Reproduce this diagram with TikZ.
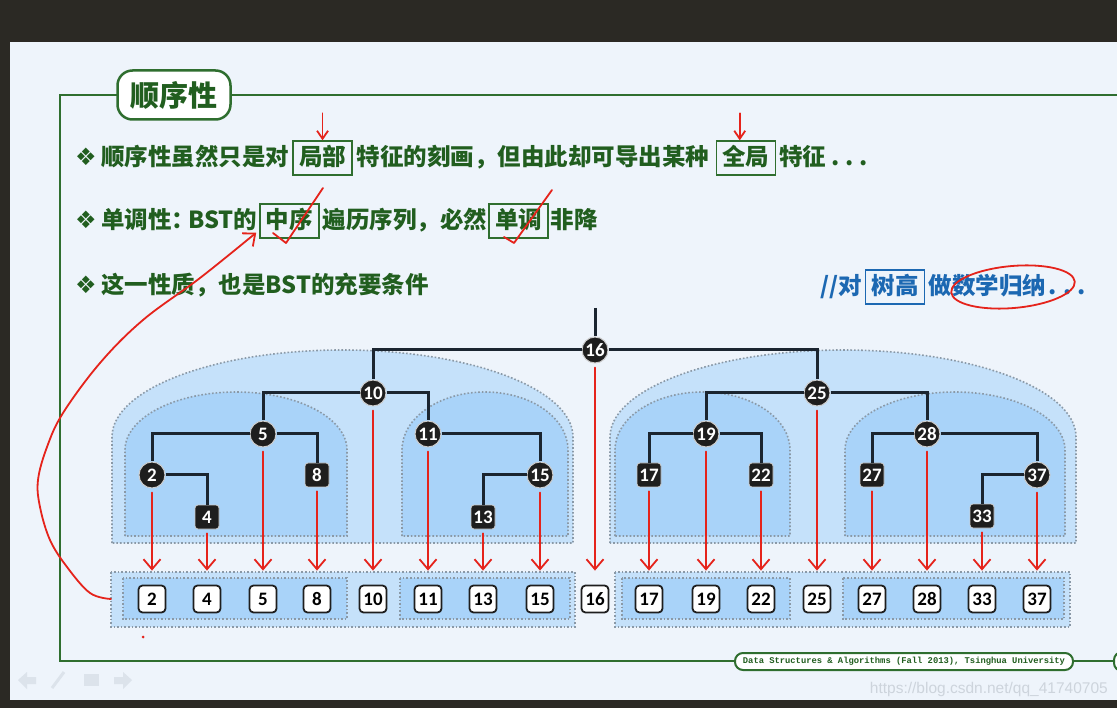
\documentclass[tikz,border=0pt]{standalone}
\usepackage{fontspec}
\newfontfamily\cjk{Noto Sans CJK SC}
\newfontfamily\numf{Carlito}
\newfontfamily\symf{DejaVu Sans}
\newfontfamily\monof{Liberation Mono}
\newfontfamily\wmf{Liberation Sans}
\usetikzlibrary{positioning,arrows.meta}

\definecolor{slidebg}{HTML}{EEF4FB}
\definecolor{darkbg}{HTML}{2B2924}
\definecolor{framegreen}{HTML}{2F6E2F}
\definecolor{txtgreen}{HTML}{215E1F}
\definecolor{txtblue}{HTML}{1C68B2}
\definecolor{outerblue}{HTML}{C5E1FA}
\definecolor{innerblue}{HTML}{A9D3F9}
\definecolor{dotgray}{HTML}{8A99A7}
\definecolor{nodeblack}{HTML}{1E1E1E}
\definecolor{edgeblack}{HTML}{1B2530}
\definecolor{penred}{HTML}{E5231B}
\definecolor{navgray}{HTML}{DCE3EB}
\definecolor{wmgray}{HTML}{CDD4DC}

\tikzset{
  txt/.style={font=\cjk\bfseries\fontsize{23.5}{28}\selectfont, text=txtgreen, inner sep=0pt, anchor=base west},
  kbox/.style={txt, draw=framegreen, line width=1.3pt, inner xsep=6pt, inner ysep=6pt, text height=19pt, text depth=3pt},
  bluetxt/.style={txt, text=txtblue},
  bbox/.style={kbox, text=txtblue, draw=txtblue},
  bullet/.style={font=\symf\fontsize{24}{24}\selectfont, text=txtgreen, inner sep=0pt},
  titlebox/.style={draw=framegreen, line width=2.5pt, fill=white, rounded corners=15pt, minimum width=113pt, minimum height=49pt, font=\cjk\bfseries\fontsize{29}{30}\selectfont, text=txtgreen},
  footbox/.style={draw=framegreen, line width=2pt, fill=white, rounded corners=8pt, minimum width=338pt, minimum height=17pt, inner sep=0pt, font=\monof\bfseries\fontsize{8.8}{9}\selectfont, text=txtgreen},
  frame/.style={draw=framegreen, line width=2pt},
  inode/.style={circle, fill=nodeblack, draw=gray!40, line width=1pt, text=white, font=\numf\bfseries\fontsize{19}{19}\selectfont, minimum size=26pt, inner sep=0pt},
  leaf/.style={rectangle, rounded corners=3pt, fill=nodeblack, draw=gray!40, line width=0.8pt, text=white, font=\numf\bfseries\fontsize{19}{19}\selectfont, minimum size=24pt, inner sep=0pt},
  seqbox/.style={rectangle, rounded corners=4pt, fill=white, draw=nodeblack, line width=1.8pt, text=black, font=\numf\bfseries\fontsize{19}{19}\selectfont, minimum size=27pt, inner sep=0pt},
  edge/.style={draw=edgeblack, line width=3pt},
  hull/.style={draw=dotgray, line width=1.6pt, dotted},
  redpen/.style={draw=penred, line width=1.8pt, line cap=round, line join=round},
  redarrow/.style={redpen, -{Straight Barb[length=10pt, width=17pt]}},
}

\begin{document}
\begin{tikzpicture}[x=1pt,y=-1pt]
\useasboundingbox (0,0) rectangle (1117,708);
\fill[darkbg] (0,0) rectangle (1117,708);
\fill[slidebg] (10,42) rectangle (1117,700);

% frame and title
\draw[frame] (60,95) rectangle (1140,661);
\node[titlebox] (title) at (174,95) {顺序性};
\node[footbox] (foot) at (904,661.5) {Data Structures \& Algorithms (Fall 2013), Tsinghua University};
\draw[frame, fill=white, rounded corners=8pt] (1114,652) rectangle (1150,671);
\node[font=\wmf\fontsize{15.5}{16}\selectfont, text=wmgray, anchor=east, inner sep=0pt] (wm) at (1108,689) {https://blog.csdn.net/qq\_41740705};

% nav icons
\fill[navgray] (18,680) -- (27,672) -- (27,677) -- (36,677) -- (36,684) -- (27,684) -- (27,689) -- cycle;
\draw[navgray, line width=3pt] (52,688) -- (64,672);
\fill[navgray] (84,674) rectangle (99,686);
\fill[navgray] (132,680) -- (123,672) -- (123,677) -- (114,677) -- (114,684) -- (123,684) -- (123,689) -- cycle;

% text lines
\node[bullet] (d1) at (86,157) {❖};
\node[txt] (l1a) at (101,166) {顺序性虽然只是对};
\node[kbox, base right=3pt of l1a] (jubu) {局部};
\node[txt, base right=4pt of jubu] (l1b) {特征的刻画，但由此却可导出某种};
\node[kbox, base right=6pt of l1b] (quanju) {全局};
\node[txt, base right=3pt of quanju] (l1c) {特征\hspace{5pt}.\hspace{6pt}.\hspace{6pt}.};

\node[bullet] (d2) at (86,220) {❖};
\node[txt] (l2a) at (101,229) {单调性：\hspace{-7pt}BST的};
\node[kbox, base right=2pt of l2a] (zhongxu) {中序};
\node[txt, base right=3pt of zhongxu] (l2b) {遍历序列，必然};
\node[kbox, base right=1pt of l2b] (dandiao) {单调};
\node[txt, base right=2pt of dandiao] (l2c) {非降};

\node[bullet] (d3) at (86,285) {❖};
\node[txt] (l3a) at (101,294) {这一性质，也是BST的充要条件};

\node[bluetxt] (l4a) at (820,295) {//对};
\node[bbox, base right=3pt of l4a] (shugao) {树高};
\node[bluetxt, base right=3pt of shugao] (l4b) {做数学归纳\hspace{3pt}.\hspace{6pt}.\hspace{6pt}.};

% subtree hulls
\draw[hull, fill=outerblue] (112,543) -- (112,437) arc[start angle=180, end angle=0, x radius=230.5pt, y radius=87pt] -- (573,543) -- cycle;
\draw[hull, fill=innerblue] (125,536) -- (125,450) arc[start angle=180, end angle=0, x radius=111pt, y radius=58pt] -- (347,536) -- cycle;
\draw[hull, fill=innerblue] (402,536) -- (402,450) arc[start angle=180, end angle=0, x radius=83pt, y radius=58pt] -- (568,536) -- cycle;
\draw[hull, fill=outerblue] (610,543) -- (610,437) arc[start angle=180, end angle=0, x radius=233pt, y radius=87pt] -- (1076,543) -- cycle;
\draw[hull, fill=innerblue] (615,536) -- (615,450) arc[start angle=180, end angle=0, x radius=87.5pt, y radius=58pt] -- (790,536) -- cycle;
\draw[hull, fill=innerblue] (845,536) -- (845,450) arc[start angle=180, end angle=0, x radius=110pt, y radius=58pt] -- (1065,536) -- cycle;

% sequence hulls
\draw[hull, fill=outerblue] (111,572) rectangle (575,627);
\draw[hull, fill=innerblue] (123,578) rectangle (347,619);
\draw[hull, fill=innerblue] (400,578) rectangle (570,619);
\draw[hull, fill=outerblue] (615,572) rectangle (1070,627);
\draw[hull, fill=innerblue] (622,578) rectangle (790,619);
\draw[hull, fill=innerblue] (843,578) rectangle (1064,619);

% tree
\coordinate (top) at (595,308);
\node[inode] (t16) at (595,350) {16};
\node[inode] (t10) at (373,393) {10};
\node[inode] (t25) at (817,393) {25};
\node[inode] (t5) at (263,434) {5};
\node[inode] (t11) at (428,434) {11};
\node[inode] (t19) at (706,434) {19};
\node[inode] (t28) at (927,434) {28};
\node[inode] (t2) at (152,475) {2};
\node[leaf] (t8) at (317,475) {8};
\node[inode] (t15) at (540,475) {15};
\node[leaf] (t17) at (649,475) {17};
\node[leaf] (t22) at (761,475) {22};
\node[leaf] (t27) at (872,475) {27};
\node[inode] (t37) at (1037,475) {37};
\node[leaf] (t4) at (207,517) {4};
\node[leaf] (t13) at (483,517) {13};
\node[leaf] (t33) at (982,516) {33};
\draw[edge] (top) -- (t16);
\foreach \p/\c in {16/10,16/25,10/5,10/11,5/2,5/8,11/15,2/4,15/13,25/19,25/28,19/17,19/22,28/27,28/37,37/33}
  \draw[edge] (t\p) -| (t\c);

% in-order sequence
\coordinate (row) at (0,599);
\foreach \v in {2,4,5,8,10,11,13,15,16,17,19,22,25,27,28,33,37}
  \node[seqbox] (s\v) at (t\v |- row) {\v};

% red annotations
\foreach \v in {2,4,5,8,10,11,13,15,16,17,19,22,25,27,28,33,37}
  \draw[redarrow] ([yshift=-4pt]t\v.south) -- ([yshift=14pt]s\v.north);
\draw[redpen, -{Straight Barb[length=8pt, width=11pt]}] ([yshift=27pt]jubu.north) -- (jubu.north);
\draw[redpen, -{Straight Barb[length=8pt, width=11pt]}] ([xshift=-6pt,yshift=27pt]quanju.north) -- ([xshift=-6pt]quanju.north);
\draw[redpen] (273,233) -- (286,243) -- (323,188);
\draw[redpen] (504,237) -- (514,243) -- (552,190);
\draw[redpen, rotate around={5:(1013,287)}] (1013,287) ellipse [x radius=62pt, y radius=21pt];
\coordinate (rowL) at (111,599);
\coordinate (curveend) at ([xshift=-3pt,yshift=6pt]zhongxu.south west);
\draw[redarrow] plot[smooth, tension=0.6] coordinates {(rowL) (90,593) (67,567) (50,540) (40,507) (38,480) (47,447) (63,413) (100,363) (143,320) (200,278) (curveend)};
\fill[penred] (143,637) circle[radius=1.5pt];
\end{tikzpicture}
\end{document}
